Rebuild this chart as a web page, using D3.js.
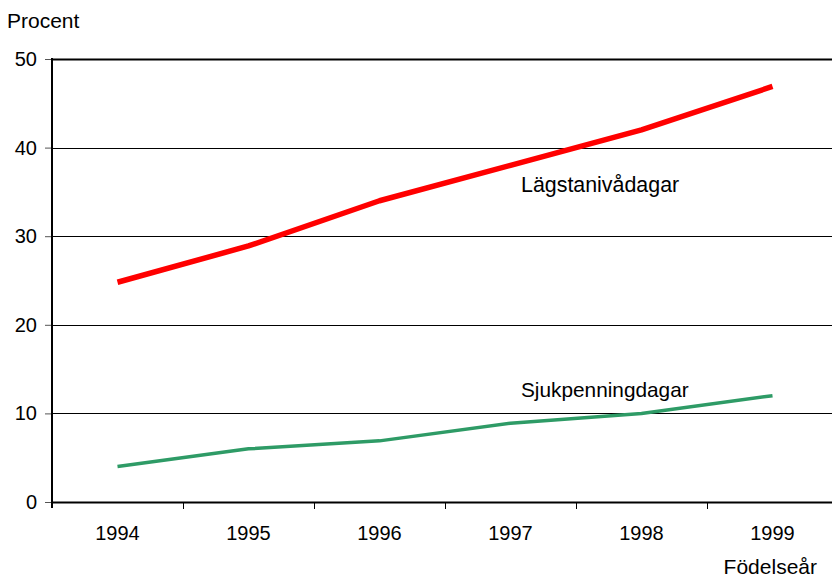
<!DOCTYPE html>
<html><head><meta charset="utf-8">
<script src="https://cdn.jsdelivr.net/npm/d3@7/dist/d3.min.js"></script>
<style>body{margin:0;background:#fff}svg{display:block}text{font-family:"Liberation Sans",Arial,sans-serif}</style>
</head><body>
<svg id="c" width="832" height="577"></svg>
<script>
const years = ["1994","1995","1996","1997","1998","1999"];
const lagstaniva = [24.8, 28.9, 34.0, 38.0, 42.0, 46.9];
const sjukpenning = [4.0, 6.0, 6.9, 8.9, 10.0, 12.0];
const yTicks = [0,10,20,30,40,50];

(function(){
const svg = d3.select("#c");
const pl = 52, pt = 59, pb = 502, band = 131;
const x = d3.scaleBand().domain(years).range([pl, pl + band*years.length]).padding(0);
const y = d3.scaleLinear().domain([0,50]).range([pb, pt]);

// gridlines
svg.append("g").selectAll("line").data(yTicks.filter(d=>d>0)).join("line")
  .attr("x1", pl).attr("x2", 832).attr("y1", d=>Math.round(y(d))+0.5).attr("y2", d=>Math.round(y(d))+0.5)
  .attr("stroke", "#000").attr("stroke-width", d=>d===50?2:1);

// y axis
const ya = svg.append("g").attr("transform", `translate(${pl},0)`)
  .call(d3.axisLeft(y).tickValues(yTicks).tickSize(7).tickPadding(8).tickFormat(d3.format("d")));
ya.select(".domain").remove();
ya.selectAll(".tick line").attr("stroke", "#555");
ya.selectAll("text").attr("font-size", 20).attr("fill", "#000").style("font-family", '"Liberation Sans",Arial,sans-serif');
svg.append("line").attr("x1", pl).attr("x2", pl).attr("y1", pt-1).attr("y2", pb+6).attr("stroke","#000").attr("stroke-width",2);

// x axis
const xa = svg.append("g").attr("transform", `translate(0,${pb})`)
  .call(d3.axisBottom(x).tickSize(0).tickPadding(24));
xa.select(".domain").remove();
xa.selectAll("text").attr("font-size", 20).attr("fill", "#000").style("font-family", '"Liberation Sans",Arial,sans-serif');
svg.append("line").attr("x1", pl).attr("x2", 832).attr("y1", pb+0.5).attr("y2", pb+0.5).attr("stroke","#000").attr("stroke-width",2);
svg.append("g").selectAll("line").data(years.slice(1)).join("line")
  .attr("x1", d=>x(d)+0.5).attr("x2", d=>x(d)+0.5).attr("y1", pb).attr("y2", pb+7)
  .attr("stroke", "#000").attr("stroke-width", 1);

const line = d3.line().x((d,i)=>x(years[i]) + x.bandwidth()/2).y(d=>y(d));
svg.append("path").datum(lagstaniva).attr("d", line).attr("fill","none")
  .attr("stroke","#FF0000").attr("stroke-width",5.5).attr("stroke-linejoin","round");
svg.append("path").datum(sjukpenning).attr("d", line).attr("fill","none")
  .attr("stroke","#2E9B66").attr("stroke-width",3.5).attr("stroke-linejoin","round");

svg.append("text").attr("x", 7).attr("y", 28).attr("font-size", 21).text("Procent");
svg.append("text").attr("x", 817).attr("y", 574).attr("font-size", 21).attr("text-anchor","end").text("Födelseår");
svg.append("text").attr("x", 521).attr("y", 192).attr("font-size", 21.4).text("Lägstanivådagar");
svg.append("text").attr("x", 521).attr("y", 397).attr("font-size", 20.8).text("Sjukpenningdagar");
})();
</script>
</body></html>
